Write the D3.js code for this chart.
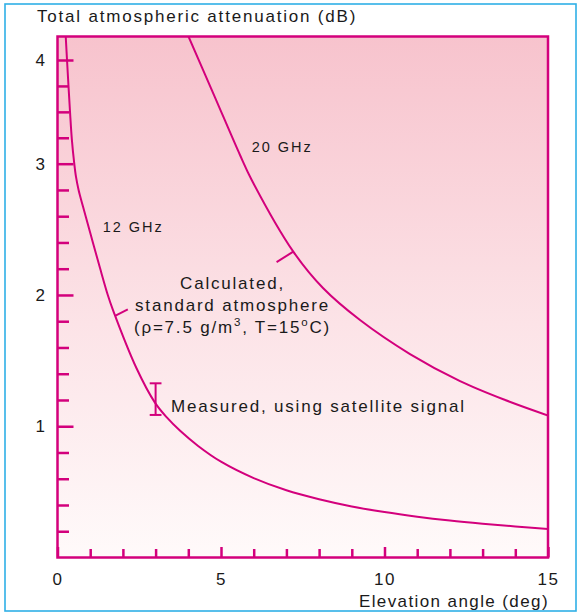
<!DOCTYPE html>
<html><head><meta charset="utf-8">
<script src="https://cdn.jsdelivr.net/npm/d3@7"></script>
<style>
html,body{margin:0;padding:0;background:#fff;}
text{font-family:"Liberation Sans",Arial,Helvetica,sans-serif;fill:#1a1a1a;}
</style></head><body>
<svg id="chart" width="580" height="616"></svg>
<script>
// ---- data ----
const ghz12Angle = [0.251, 0.291, 0.385, 0.440, 0.511, 0.566, 0.645, 0.749, 0.859, 1.086, 1.300, 1.538, 1.697, 2.42, 2.98, 3.35, 3.75, 4.3, 5.0, 6.0, 7.0, 8.0, 9.0, 10.0, 11.0, 12.0, 13.0, 14.0, 15.0];
const ghz12Atten = [4.231, 4.000, 3.489, 3.229, 3.005, 2.899, 2.800, 2.701, 2.602, 2.396, 2.205, 2.000, 1.885, 1.44, 1.18, 1.065, 0.965, 0.85, 0.73, 0.605, 0.512, 0.444, 0.389, 0.346, 0.311, 0.282, 0.258, 0.237, 0.218];
const ghz20Angle = [4.0, 4.786, 5.581, 5.939, 7.211, 8.119, 9.251, 10.78, 12.31, 13.69, 15.0];
const ghz20Atten = [4.231, 3.662, 3.084, 2.876, 2.330, 2.053, 1.809, 1.550, 1.344, 1.200, 1.082];
const measuredAngle = 3.0, measuredLow = 1.086, measuredHigh = 1.327;
const xMajorTicks = [0, 5, 10, 15];
const xMinorTicks = [1, 2, 3, 4, 6, 7, 8, 9, 11, 12, 13, 14];
const yMajorTicks = [1, 2, 3, 4];
const yMinorTicks = [0.2, 0.4, 0.6, 0.8, 1.2, 1.4, 1.6, 1.8, 2.2, 2.4, 2.6, 2.8, 3.25, 3.5, 3.75];
const titleY = "Total atmospheric attenuation (dB)";
const titleX = "Elevation angle (deg)";

// ---- layout ----
const L = 57.5, R = 548, T = 36.5, B = 557.5;
const mag = "#d3007c";
const svg = d3.select("#chart");

const x = d3.scaleLinear().domain([0, 15]).range([L, R]);
// the original axis is linear up to 3, with the "4" label placed one minor step lower
const y = d3.scaleLinear().domain([0, 3, 4]).range([B, 163.7, 60]);

// outer frame
svg.append("rect").attr("x", 5).attr("y", 4).attr("width", 571).attr("height", 607)
  .attr("fill", "none").attr("stroke", "#2fb0e6").attr("stroke-width", 1.6);

// gradient
const defs = svg.append("defs");
const g = defs.append("linearGradient").attr("id", "bg").attr("x1", 0).attr("y1", 0).attr("x2", 0).attr("y2", 1);
g.append("stop").attr("offset", "0%").attr("stop-color", "#f7c3cd");
g.append("stop").attr("offset", "55%").attr("stop-color", "#fce3e7");
g.append("stop").attr("offset", "100%").attr("stop-color", "#fffafa");
defs.append("clipPath").attr("id", "clip").append("rect")
  .attr("x", L).attr("y", T).attr("width", R - L).attr("height", B - T);

svg.append("rect").attr("x", L).attr("y", T).attr("width", R - L).attr("height", B - T)
  .attr("fill", "url(#bg)");

// axes ticks
function styleAxis(sel) {
  sel.select(".domain").remove();
  sel.selectAll(".tick line").attr("stroke", mag).attr("stroke-width", 2.5);
  sel.selectAll(".tick text").attr("fill", "#1a1a1a").attr("font-size", 17)
    .attr("font-family", "'Liberation Sans',Arial,sans-serif").attr("letter-spacing", 1.5);
}
svg.append("g").attr("transform", `translate(${L},0)`)
  .call(d3.axisLeft(y).tickValues(yMinorTicks).tickSize(-11.5).tickFormat(""))
  .call(styleAxis);
svg.append("g").attr("transform", `translate(${L},0)`)
  .call(d3.axisLeft(y).tickValues(yMajorTicks).tickSize(-16).tickPadding(11).tickFormat(d3.format("d")))
  .call(styleAxis);
svg.append("g").attr("transform", `translate(0,${B})`)
  .call(d3.axisBottom(x).tickValues(xMinorTicks).tickSize(-8.5).tickFormat(""))
  .call(styleAxis);
svg.append("g").attr("transform", `translate(0,${B})`)
  .call(d3.axisBottom(x).tickValues(xMajorTicks).tickSize(-10.5).tickPadding(15).tickFormat(d3.format("d")))
  .call(styleAxis);

// frame of plot
svg.append("rect").attr("x", L).attr("y", T).attr("width", R - L).attr("height", B - T)
  .attr("fill", "none").attr("stroke", mag).attr("stroke-width", 2.5);

// curves
const line = d3.line().x(d => x(d[0])).y(d => y(d[1])).curve(d3.curveCatmullRom.alpha(0.5));
const plot = svg.append("g").attr("clip-path", "url(#clip)");
plot.append("path").datum(ghz12Angle.map((a, i) => [a, ghz12Atten[i]]))
  .attr("d", line).attr("fill", "none").attr("stroke", mag).attr("stroke-width", 2);
plot.append("path").datum(ghz20Angle.map((a, i) => [a, ghz20Atten[i]]))
  .attr("d", line).attr("fill", "none").attr("stroke", mag).attr("stroke-width", 2);

// leader lines for "Calculated" label
const leaders = [[7.21, 2.33, 6.7, 2.25], [1.76, 1.84, 2.15, 1.89]];
leaders.forEach(d => svg.append("line")
  .attr("x1", x(d[0])).attr("y1", y(d[1])).attr("x2", x(d[2])).attr("y2", y(d[3]))
  .attr("stroke", mag).attr("stroke-width", 2));

// measured error bar
const capHalf = 0.18;
svg.append("line").attr("x1", x(measuredAngle)).attr("x2", x(measuredAngle))
  .attr("y1", y(measuredLow)).attr("y2", y(measuredHigh)).attr("stroke", mag).attr("stroke-width", 2);
[measuredLow, measuredHigh].forEach(v => svg.append("line")
  .attr("x1", x(measuredAngle - capHalf)).attr("x2", x(measuredAngle + capHalf))
  .attr("y1", y(v)).attr("y2", y(v)).attr("stroke", mag).attr("stroke-width", 2));

// texts
function txt(s, xx, yy, size, anchor, ls) {
  return svg.append("text").attr("x", xx).attr("y", yy).attr("font-size", size)
    .attr("text-anchor", anchor || "start").attr("letter-spacing", ls == null ? 1.8 : ls).text(s);
}
txt(titleY, 37, 21.7, 17);
txt(titleX, 549, 607, 17, "end", 1.4);
txt("12 GHz", 102.7, 232.3, 14.5, "start", 2);
txt("20 GHz", 251.7, 151.7, 14.5, "start", 2);
txt("Calculated,", 232.5, 289.3, 17, "middle");
txt("standard atmosphere", 232.5, 311, 17, "middle");
const t3 = svg.append("text").attr("x", 232.5).attr("y", 333.3).attr("font-size", 17)
  .attr("text-anchor", "middle").attr("letter-spacing", 1.8);
t3.append("tspan").text("(ρ=7.5 g/m");
t3.append("tspan").attr("dy", -7).attr("font-size", 11.5).text("3");
t3.append("tspan").attr("dy", 7).text(", T=15");
t3.append("tspan").attr("dy", -7).attr("font-size", 11.5).text("o");
t3.append("tspan").attr("dy", 7).text("C)");
txt("Measured, using satellite signal", 171, 411.7, 17);
</script>
</body></html>
